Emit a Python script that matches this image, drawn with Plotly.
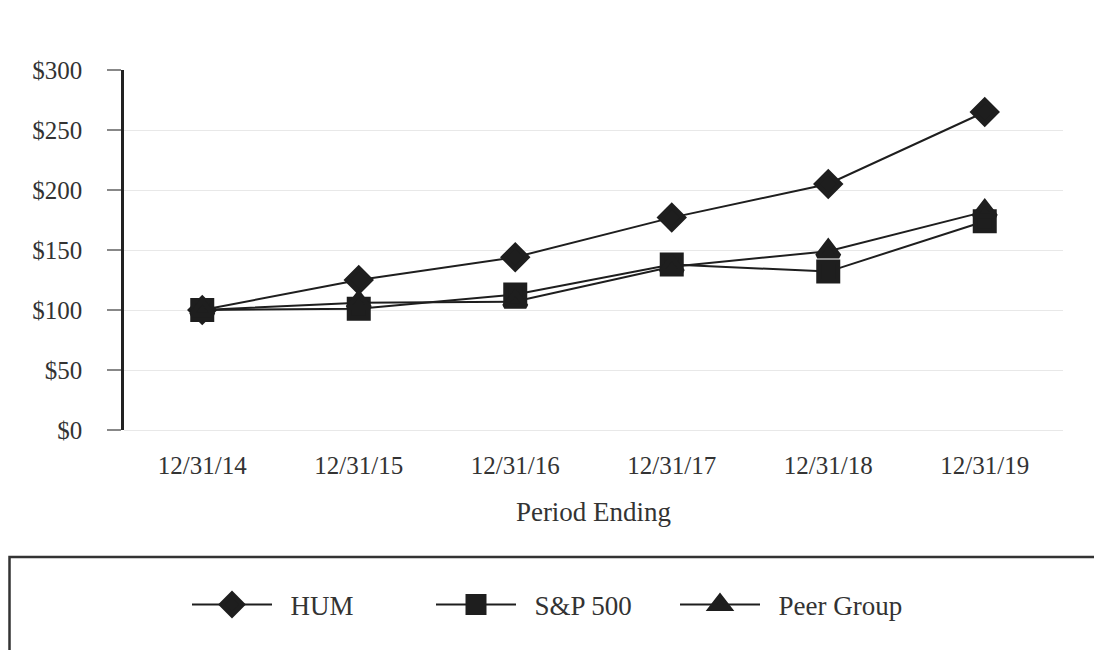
import plotly.graph_objects as go

periods = ["12/31/14", "12/31/15", "12/31/16", "12/31/17", "12/31/18", "12/31/19"]
hum = [100, 125, 144, 177, 205, 265]
sp500 = [100, 101, 113, 138, 132, 174]
peer = [100, 106, 107, 136, 149, 182]
y_ticks = [0, 50, 100, 150, 200, 250, 300]
y_labels = ["$" + str(v) for v in y_ticks]

FONT = "Liberation Serif, Times New Roman, serif"
INK = "#1e1e1e"
TXT = "#333"

# page body has an 8px margin; plot area in figure coords
L, T, W, H = 116, 62, 939, 360
FIG_W, FIG_H = 1102, 650

fig = go.Figure()
series = [
    ("HUM", hum, "diamond", 18),
    ("S&P 500", sp500, "square", 19),
    ("Peer Group", peer, "triangle-up", 19),
]
for name, vals, sym, sz in series:
    fig.add_trace(go.Scatter(
        x=periods, y=vals, name="\u00a0\u00a0" + name, mode="lines+markers",
        line=dict(color=INK, width=2),
        marker=dict(symbol=sym, size=sz, color=INK, line=dict(width=5, color=INK)),
    ))

fig.update_layout(
    width=FIG_W, height=FIG_H,
    margin=dict(l=L, r=FIG_W - L - W, t=T, b=FIG_H - T - H),
    paper_bgcolor="white", plot_bgcolor="white",
    font=dict(family=FONT, size=25, color=TXT),
    showlegend=True,
    legend=dict(
        orientation="h", x=179 / FIG_W, xref="container", xanchor="left",
        y=53 / FIG_H, yref="container", yanchor="middle",
        font=dict(family=FONT, size=27, color=TXT),
        itemwidth=80, entrywidth=149, itemsizing="trace",
        bgcolor="rgba(0,0,0,0)", borderwidth=0,
    ),
    shapes=[dict(type="rect", xref="paper", yref="paper",
                 x0=(1.5 - L) / W, x1=(1110 - L) / W,
                 y0=(T + H - 660) / H, y1=(T + H - 549) / H,
                 line=dict(color="#333", width=2.5))],
)
fig.update_xaxes(
    type="category", range=[-0.5, 5.5], showgrid=False, zeroline=False,
    showline=False, ticks="", ticklabelstandoff=18,
    tickfont=dict(family=FONT, size=25, color=TXT),
    title=dict(text="Period Ending", font=dict(family=FONT, size=27, color=TXT), standoff=24),
)
fig.update_yaxes(
    range=[0, 300], tickvals=y_ticks, ticktext=y_labels,
    showgrid=True, gridcolor="#e8e8e8", gridwidth=1,
    zeroline=True, zerolinecolor="#e8e8e8", zerolinewidth=1,
    showline=True, linecolor="#222", linewidth=2.5,
    ticks="outside", ticklen=14, tickcolor="#888", tickwidth=1.5,
    ticklabelstandoff=20,
    tickfont=dict(family=FONT, size=25, color=TXT),
)

fig.write_html("out.html")
